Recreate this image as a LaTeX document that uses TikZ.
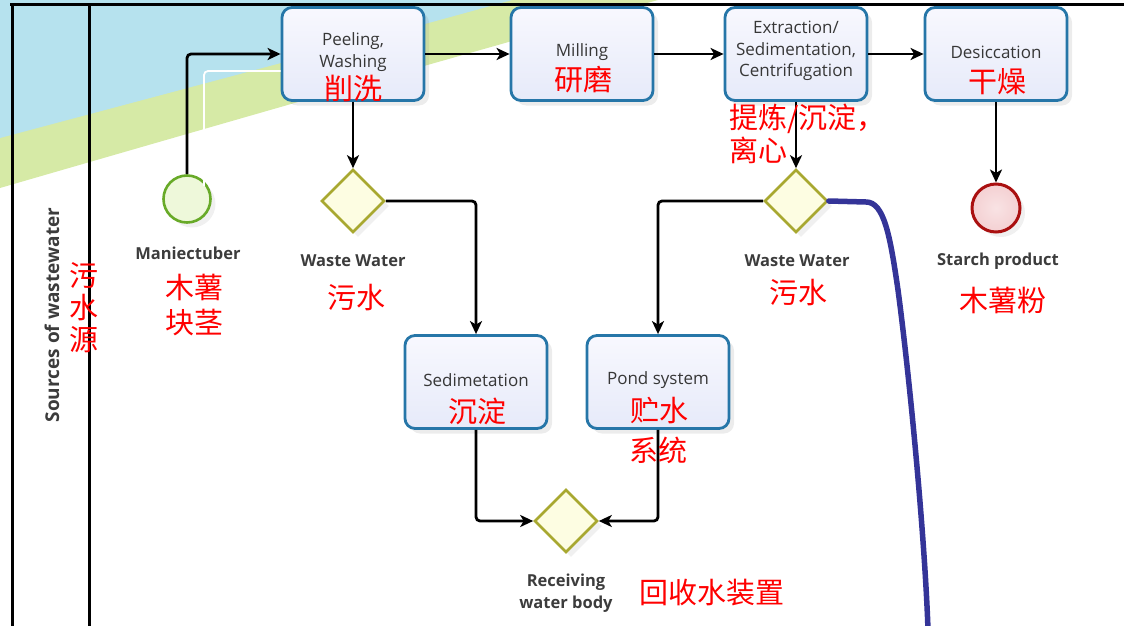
\documentclass[tikz,border=0pt]{standalone}
\usepackage{fontspec}
\setmainfont{Open Sans}
\newfontfamily\cjk{Noto Sans CJK SC}
\usetikzlibrary{arrows.meta,shapes.geometric,shadows}
\definecolor{bandblue}{RGB}{182,226,238}
\definecolor{bandgreen}{RGB}{214,234,166}
\definecolor{boxblue}{RGB}{38,118,168}
\definecolor{boxtop}{RGB}{248,248,254}
\definecolor{boxbot}{RGB}{230,234,249}
\definecolor{gateolive}{RGB}{168,168,48}
\definecolor{gatefill}{RGB}{253,253,226}
\definecolor{startgreen}{RGB}{104,170,40}
\definecolor{startfill}{RGB}{238,248,218}
\definecolor{endred}{RGB}{170,16,16}
\definecolor{endfill}{RGB}{244,208,210}
\definecolor{textgray}{RGB}{55,55,55}
\definecolor{labelgray}{RGB}{60,60,60}
\definecolor{flowblue}{RGB}{52,52,152}
\tikzset{
  task/.style={draw=boxblue, line width=2.8pt, rounded corners=10pt,
    top color=boxtop, bottom color=boxbot, minimum width=142pt, minimum height=93pt,
    inner sep=0pt, drop shadow={opacity=0.15, shadow xshift=5pt, shadow yshift=-5pt}},
  gate/.style={diamond, aspect=1, draw=gateolive, line width=2.6pt, fill=gatefill,
    minimum size=63pt, inner sep=0pt,
    drop shadow={opacity=0.12, shadow xshift=5pt, shadow yshift=-5pt}},
  startev/.style={circle, draw=startgreen, line width=2.6pt, fill=startfill,
    minimum size=47pt, inner sep=0pt,
    drop shadow={opacity=0.12, shadow xshift=5pt, shadow yshift=-5pt}},
  endev/.style={circle, draw=endred, line width=3pt, inner color=white!40!endfill, outer color=endfill,
    minimum size=48pt, inner sep=0pt,
    drop shadow={opacity=0.12, shadow xshift=5pt, shadow yshift=-5pt}},
  conn/.style={line width=2.8pt, -{Stealth[length=13pt,width=12pt,inset=3.5pt]}, rounded corners=4pt},
  lane/.style={line width=3pt},
  lbl/.style={font=\bfseries\fontsize{16.5}{22}\selectfont, text=labelgray, inner sep=0pt, align=center},
  boxtext/.style={font=\fontsize{17}{21.5}\selectfont, text=textgray, align=center, inner sep=0pt},
  cn/.style={font=\cjk\fontsize{29}{33}\selectfont, text=red, inner sep=0pt},
}
\begin{document}
\begin{tikzpicture}[x=1pt,y=-1pt]
\useasboundingbox (0,0) rectangle (1124,626);
% background band
\fill[bandgreen] (0,0) -- (658,0) .. controls (450,58) and (200,130) .. (0,188) -- cycle;
\fill[bandblue] (0,0) -- (512,0) .. controls (350,45) and (180,90) .. (0,138) -- cycle;
% lane lines
\draw[lane] (10,5) -- (1124,5);
\draw[lane] (12,5) -- (12,626);
\draw[lane] (89,5) -- (89,626);
\node[lbl, rotate=90, font=\bfseries\fontsize{19}{22}\selectfont] (lanelbl) at (52,315) {Sources of wastewater};

% nodes
\node[task] (peel) at (353,54) {};
\node[task] (mill) at (582,54) {};
\node[task] (ext) at (796,54) {};
\node[task] (des) at (996,54) {};
\node[task] (sed) at (476,382) {};
\node[task] (pond) at (658,382) {};
\node[startev] (start) at (187,199) {};
\node[endev] (end) at (996,208) {};
\node[gate] (ww1) at (353,201) {};
\node[gate] (ww2) at (796,201) {};
\node[gate] (recv) at (566,521) {};

% connector shadow (start)
\draw[white, line width=1.8pt, rounded corners=4pt] ([shift={(17,12)}]start.north) |- ([shift={(0,17)}]peel.west);

% connectors
\draw[conn] (start.north) |- (peel.west);
\draw[conn] (peel.east) -- (mill.west);
\draw[conn] (mill.east) -- (ext.west);
\draw[conn] (ext.east) -- (des.west);
\draw[conn] (peel.south) -- (ww1.north);
\draw[conn] (ext.south) -- (ww2.north);
\draw[conn] (des.south) -- (end.north);
\draw[conn] (ww1.east) -| (sed.north);
\draw[conn] (ww2.west) -| (pond.north);
\draw[conn] (sed.south) |- (recv.west);
\draw[conn] (pond.south) |- (recv.east);
\draw[flowblue, line width=5.5pt, line cap=round] (ww2.east) -- (866,202) .. controls (884,202) and (890,235) .. (898,290) .. controls (910,380) and (925,540) .. (928,630);

% box texts
\node[boxtext] (t-peel) at (353,52) {Peeling,\\Washing};
\node[boxtext] (t-mill) at (582,52) {Milling};
\node[boxtext] (t-ext) at (796,51) {Extraction/\\Sedimentation,\\Centrifugation};
\node[boxtext] (t-des) at (996,52) {Desiccation};
\node[boxtext] (t-sed) at (476,380) {Sedimetation};
\node[boxtext] (t-pond) at (658,380) {Pond system};

% labels
\node[lbl] (l-start) at (188,253) {Maniectuber};
\node[lbl] (l-ww1) at (353,261) {Waste Water};
\node[lbl] (l-ww2) at (797,261) {Waste Water};
\node[lbl] (l-end) at (998,261) {Starch product};
\node[lbl] (l-recv) at (566,593) {Receiving\\water body};

% chinese
\node[cn] (c-peel) at (353,88) {削洗};
\node[cn] (c-mill) at (583,80) {研磨};
\node[cn] (c-des) at (997,82) {干燥};
\node[cn, align=left, anchor=north west] (c-ext) at (729,104) {提炼/沉淀，\\离心};
\node[cn] (c-start1) at (194,287) {木薯};
\node[cn] (c-start2) at (194,323) {块茎};
\node[cn, align=center, font=\cjk\fontsize{29}{32}\selectfont] (c-lane) at (84,308) {污\\水\\源};
\node[cn] (c-ww1) at (356,298) {污水};
\node[cn] (c-ww2) at (798,293) {污水};
\node[cn] (c-end) at (1003,300) {木薯粉};
\node[cn] (c-sed) at (477,411) {沉淀};
\node[cn] (c-pond1) at (659,411) {贮水};
\node[cn] (c-pond2) at (658,450) {系统};
\node[cn] (c-recv) at (712,593) {回收水装置};
\end{tikzpicture}
\end{document}
